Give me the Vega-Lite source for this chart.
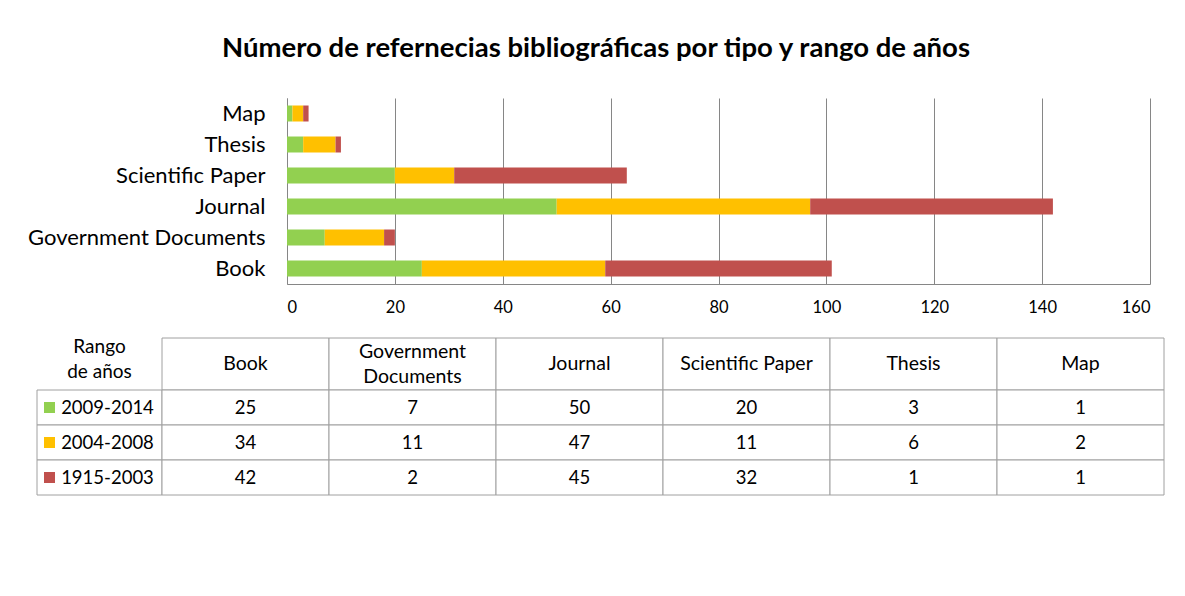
{
  "$schema": "https://vega.github.io/schema/vega-lite/v6.json",
  "background": "white",
  "padding": {"left": 27, "top": 34, "right": 21, "bottom": 0},
  "title": {"text": "Número de refernecias bibliográficas por tipo y rango de años", "font": "Lato", "fontSize": 27.5, "fontWeight": "bold", "color": "#000000", "anchor": "middle", "offset": 36},
  "config": {"font": "Lato", "view": {"stroke": null}},
  "datasets": {
    "refs": [
      {"tipo": "Book", "rango": "2009-2014", "k": 1, "n": 25},
      {"tipo": "Book", "rango": "2004-2008", "k": 2, "n": 34},
      {"tipo": "Book", "rango": "1915-2003", "k": 3, "n": 42},
      {"tipo": "Government Documents", "rango": "2009-2014", "k": 1, "n": 7},
      {"tipo": "Government Documents", "rango": "2004-2008", "k": 2, "n": 11},
      {"tipo": "Government Documents", "rango": "1915-2003", "k": 3, "n": 2},
      {"tipo": "Journal", "rango": "2009-2014", "k": 1, "n": 50},
      {"tipo": "Journal", "rango": "2004-2008", "k": 2, "n": 47},
      {"tipo": "Journal", "rango": "1915-2003", "k": 3, "n": 45},
      {"tipo": "Scientific Paper", "rango": "2009-2014", "k": 1, "n": 20},
      {"tipo": "Scientific Paper", "rango": "2004-2008", "k": 2, "n": 11},
      {"tipo": "Scientific Paper", "rango": "1915-2003", "k": 3, "n": 32},
      {"tipo": "Thesis", "rango": "2009-2014", "k": 1, "n": 3},
      {"tipo": "Thesis", "rango": "2004-2008", "k": 2, "n": 6},
      {"tipo": "Thesis", "rango": "1915-2003", "k": 3, "n": 1},
      {"tipo": "Map", "rango": "2009-2014", "k": 1, "n": 1},
      {"tipo": "Map", "rango": "2004-2008", "k": 2, "n": 2},
      {"tipo": "Map", "rango": "1915-2003", "k": 3, "n": 1}
    ],
    "tipos": [
      {"tipo": "Book", "h": "Book"},
      {"tipo": "Government Documents", "h": ["Government", "Documents"]},
      {"tipo": "Journal", "h": "Journal"},
      {"tipo": "Scientific Paper", "h": "Scientific Paper"},
      {"tipo": "Thesis", "h": "Thesis"},
      {"tipo": "Map", "h": "Map"}
    ],
    "rangos": [
      {"rango": "2009-2014"},
      {"rango": "2004-2008"},
      {"rango": "1915-2003"}
    ],
    "cabecera": [
      {"h": ["Rango", "de años"]}
    ]
  },
  "spacing": 21,
  "vconcat": [
    {
      "spacing": 0,
      "bounds": "flush",
      "hconcat": [
        {
          "width": 250,
          "height": 186,
          "data": {"values": [{"v": ""}]},
          "mark": {"type": "text", "opacity": 0},
          "encoding": {"text": {"field": "v", "type": "nominal"}}
        },
        {
          "width": 863,
          "height": 186,
          "data": {"name": "refs"},
          "mark": {"type": "bar"},
          "encoding": {
            "y": {
              "field": "tipo", "type": "nominal",
              "sort": ["Map", "Thesis", "Scientific Paper", "Journal", "Government Documents", "Book"],
              "scale": {"paddingInner": 0.484, "paddingOuter": 0.242},
              "axis": {"title": null, "labelFontSize": 22, "labelColor": "#000000", "labelPadding": 22, "ticks": false, "domainColor": "#868686", "labelLimit": 300}
            },
            "x": {
              "field": "n", "type": "quantitative", "stack": "zero",
              "scale": {"domain": [0, 160], "nice": false},
              "axis": {"title": null, "values": [0, 20, 40, 60, 80, 100, 120, 140, 160], "grid": true, "gridColor": "#868686", "domainColor": "#868686", "ticks": false, "labelFontSize": 16.5, "labelColor": "#000000", "labelPadding": 15}
            },
            "color": {
              "field": "rango", "type": "nominal",
              "scale": {"domain": ["2009-2014", "2004-2008", "1915-2003"], "range": ["#92D050", "#FFC000", "#C0504D"]},
              "legend": null
            },
            "order": {"field": "k", "type": "quantitative"}
          }
        }
      ]
    },
    {
      "spacing": 0,
      "bounds": "flush",
      "columns": 2,
      "concat": [
        {
          "width": 125,
          "height": 52,
          "data": {"name": "cabecera"},
          "mark": {"type": "text", "fontSize": 19, "lineHeight": 25, "color": "#000000", "baseline": "middle", "dy": -17},
          "encoding": {"text": {"field": "h", "type": "nominal"}}
        },
        {
          "width": 1002,
          "height": 52,
          "data": {"name": "tipos"},
          "encoding": {"x": {"field": "tipo", "type": "nominal", "sort": null, "scale": {"paddingInner": 0, "paddingOuter": 0}, "axis": null}},
          "layer": [
            {"mark": {"type": "rect", "fill": "white", "stroke": "#a0a0a0", "strokeWidth": 1}},
            {"transform": [{"filter": "!isArray(datum.h)"}],
             "mark": {"type": "text", "fontSize": 19.5, "color": "#000000", "baseline": "middle"},
             "encoding": {"text": {"field": "h", "type": "nominal"}}},
            {"transform": [{"filter": "isArray(datum.h)"}],
             "mark": {"type": "text", "fontSize": 19.5, "lineHeight": 25, "color": "#000000", "baseline": "middle", "dy": -12.5},
             "encoding": {"text": {"field": "h", "type": "nominal"}}}
          ]
        },
        {
          "width": 125,
          "height": 105,
          "data": {"name": "rangos"},
          "encoding": {"y": {"field": "rango", "type": "nominal", "sort": null, "scale": {"paddingInner": 0, "paddingOuter": 0}, "axis": null}},
          "layer": [
            {"mark": {"type": "rect", "fill": "white", "stroke": "#a0a0a0", "strokeWidth": 1}},
            {"mark": {"type": "point", "shape": "square", "filled": true, "size": 121, "opacity": 1, "xOffset": -50},
             "encoding": {"color": {"field": "rango", "type": "nominal", "scale": {"domain": ["2009-2014", "2004-2008", "1915-2003"], "range": ["#92D050", "#FFC000", "#C0504D"]}, "legend": null}}},
            {"mark": {"type": "text", "fontSize": 18.5, "color": "#000000", "baseline": "middle", "dx": 8},
             "encoding": {"text": {"field": "rango", "type": "nominal"}}}
          ]
        },
        {
          "width": 1002,
          "height": 105,
          "data": {"name": "refs"},
          "encoding": {
            "x": {"field": "tipo", "type": "nominal", "sort": ["Book", "Government Documents", "Journal", "Scientific Paper", "Thesis", "Map"], "scale": {"paddingInner": 0, "paddingOuter": 0}, "axis": null},
            "y": {"field": "rango", "type": "nominal", "sort": ["2009-2014", "2004-2008", "1915-2003"], "scale": {"paddingInner": 0, "paddingOuter": 0}, "axis": null}
          },
          "layer": [
            {"mark": {"type": "rect", "fill": "white", "stroke": "#a0a0a0", "strokeWidth": 1}},
            {"mark": {"type": "text", "fontSize": 18.5, "color": "#000000", "baseline": "middle"},
             "encoding": {"text": {"field": "n", "type": "quantitative"}}}
          ]
        }
      ]
    }
  ]
}
